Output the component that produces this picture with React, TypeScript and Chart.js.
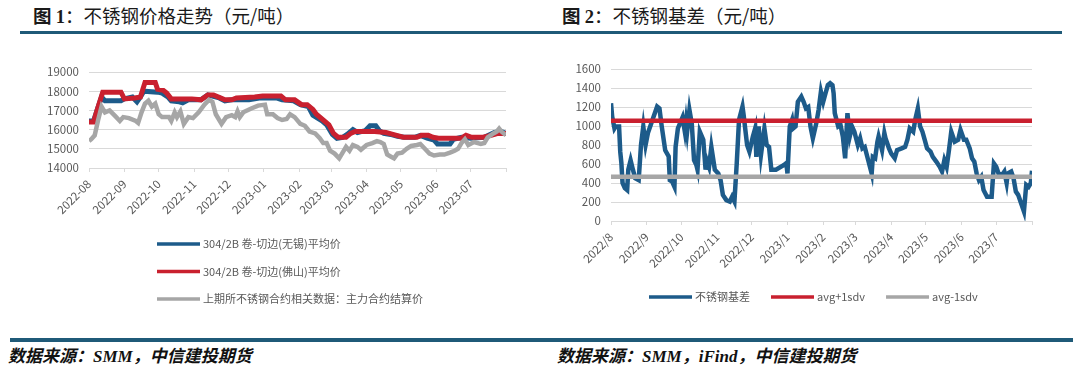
import React, { useEffect, useRef } from 'react';
import { Chart, registerables } from 'chart.js';

Chart.register(...registerables);

// ---------- data: left chart (days since 2022-08-01) ----------
const leftTickDays = [0, 31, 61, 92, 122, 153, 184, 212, 243, 273, 304, 334, 365];
const leftTickLabels = ['2022-08', '2022-09', '2022-10', '2022-11', '2022-12', '2023-01', '2023-02', '2023-03', '2023-04', '2023-05', '2023-06', '2023-07'];

const wuxiDays = [0, 4, 7, 11, 14, 28, 31, 38, 42, 45, 48, 60, 64, 69, 72, 79, 82, 87, 98, 104, 108, 114, 119, 125, 140, 149, 164, 169, 179, 185, 192, 196, 204, 208, 213, 217, 222, 226, 231, 235, 242, 246, 251, 254, 258, 264, 270, 276, 285, 290, 296, 302, 305, 316, 319, 326, 334, 346, 355, 361, 365];
const wuxiPrices = [16450, 16450, 17000, 17700, 17500, 17500, 17600, 17700, 17450, 17700, 18000, 17950, 17900, 17700, 17500, 17450, 17400, 17550, 17550, 17800, 17750, 17650, 17500, 17550, 17550, 17650, 17650, 17550, 17500, 17300, 17200, 16750, 16450, 16250, 15750, 15550, 15600, 15750, 16000, 15850, 15950, 16200, 16200, 15950, 15800, 15750, 15650, 15600, 15600, 15700, 15550, 15450, 15250, 15250, 15500, 15600, 15550, 15600, 15850, 15900, 15800];

const foshanDays = [0, 4, 7, 12, 28, 31, 40, 45, 49, 58, 60, 65, 68, 72, 90, 98, 104, 109, 115, 119, 125, 129, 145, 152, 168, 172, 180, 186, 191, 196, 199, 205, 210, 214, 218, 225, 229, 233, 250, 260, 266, 275, 287, 291, 297, 301, 306, 326, 330, 335, 345, 352, 358, 365];
const foshanPrices = [16400, 16400, 17000, 17950, 17950, 17600, 17650, 17700, 18450, 18450, 18100, 18050, 17900, 17600, 17600, 17550, 17800, 17800, 17650, 17550, 17550, 17650, 17700, 17750, 17750, 17550, 17550, 17300, 17300, 17050, 16800, 16500, 16250, 15800, 15600, 15600, 15800, 15900, 15900, 15850, 15750, 15600, 15600, 15700, 15700, 15600, 15550, 15550, 15700, 15600, 15600, 15700, 15800, 15800];

const futuresDays = [0, 2, 5, 8, 11, 14, 18, 23, 27, 30, 35, 41, 43, 46, 49, 52, 55, 58, 61, 64, 70, 72, 75, 77, 80, 83, 87, 91, 96, 101, 105, 108, 111, 116, 120, 125, 128, 130, 132, 135, 142, 148, 154, 156, 161, 165, 169, 173, 176, 180, 185, 189, 193, 198, 202, 205, 208, 211, 215, 219, 222, 225, 228, 231, 235, 238, 243, 248, 252, 255, 258, 261, 264, 267, 270, 274, 278, 282, 287, 290, 294, 298, 302, 307, 311, 316, 320, 323, 326, 329, 332, 337, 343, 346, 349, 354, 357, 359, 361, 365];
const futuresPrices = [15400, 15500, 15700, 16500, 17200, 16900, 17000, 16700, 16450, 16650, 16600, 16450, 16350, 16900, 17350, 17500, 17200, 17350, 16800, 16650, 16650, 16450, 16900, 16650, 16950, 16300, 16650, 16600, 16900, 17300, 17550, 17450, 16800, 16300, 16650, 16750, 16650, 16950, 16650, 16900, 17100, 17250, 17300, 16800, 16800, 16600, 16500, 16550, 16800, 16650, 16300, 16200, 15900, 15800, 15550, 15300, 15300, 14900, 14750, 14500, 14800, 15100, 14900, 15200, 15100, 14950, 15200, 15300, 15400, 15350, 15250, 14700, 14600, 14500, 14750, 14800, 15000, 15150, 15200, 15250, 15000, 14750, 14650, 14700, 14700, 14800, 14900, 15000, 15300, 15500, 15200, 15350, 15250, 15300, 15600, 15800, 15900, 16050, 15900, 15700];

// ---------- data: right chart ----------
const rightTickDays = [0, 31, 61, 92, 122, 153, 184, 212, 243, 273, 304, 334, 365];
const rightTickLabels = ['2022/8', '2022/9', '2022/10', '2022/11', '2022/12', '2023/1', '2023/2', '2023/3', '2023/4', '2023/5', '2023/6', '2023/7'];

const basisDays = [0, 1, 3, 4, 7, 8, 9, 10, 12, 14, 15, 17, 19, 21, 24, 26, 28, 30, 32, 36, 40, 42, 44, 47, 50, 51, 53, 55, 56, 58, 62, 64, 65, 66, 68, 70, 72, 74, 75, 77, 80, 82, 83, 85, 87, 90, 93, 95, 97, 100, 103, 105, 107, 109, 111, 114, 115, 118, 120, 123, 125, 126, 128, 130, 133, 135, 137, 139, 143, 150, 152, 153, 155, 157, 158, 160, 162, 165, 167, 169, 171, 173, 175, 178, 180, 182, 184, 186, 188, 190, 192, 193, 194, 197, 199, 201, 203, 205, 207, 209, 211, 214, 216, 218, 220, 223, 226, 227, 229, 231, 232, 235, 237, 238, 241, 243, 246, 248, 252, 255, 257, 259, 262, 264, 266, 268, 270, 272, 274, 277, 279, 282, 285, 287, 289, 291, 293, 295, 298, 301, 303, 306, 308, 311, 313, 315, 317, 319, 321, 323, 326, 330, 332, 334, 336, 339, 341, 343, 344, 347, 349, 351, 353, 356, 358, 360, 362, 364, 365];
const basisValues = [1240, 1100, 975, 995, 995, 730, 610, 400, 345, 325, 540, 640, 540, 450, 430, 800, 995, 800, 925, 1065, 1205, 1185, 995, 745, 680, 430, 415, 360, 780, 975, 1090, 940, 1045, 940, 1170, 1030, 640, 590, 540, 940, 855, 540, 640, 570, 780, 540, 500, 430, 275, 220, 205, 255, 205, 605, 1065, 1205, 1115, 800, 730, 890, 975, 675, 995, 695, 975, 800, 780, 540, 540, 590, 610, 500, 995, 1065, 975, 995, 1255, 1310, 1255, 1185, 1200, 990, 870, 1030, 1170, 1360, 1255, 1345, 1430, 1450, 1430, 1345, 1135, 995, 1010, 890, 660, 1135, 890, 995, 940, 800, 870, 765, 780, 640, 500, 675, 660, 835, 890, 745, 925, 870, 765, 710, 660, 745, 765, 780, 855, 975, 940, 1080, 1185, 995, 940, 855, 765, 730, 675, 625, 570, 520, 640, 570, 745, 940, 835, 855, 960, 855, 855, 765, 660, 625, 500, 430, 465, 325, 255, 255, 605, 570, 500, 485, 520, 400, 500, 520, 450, 310, 275, 170, 100, 380, 360, 400, 530];

const bandDays = [0, 365];
const avgPlusSdv = [1055, 1055];
const avgMinusSdv = [465, 465];

// ---------- styles ----------
const BLUE = '#1D5B8A';
const RED = '#C9202F';
const GRAY = '#A6A6A6';
const TICK = '#595959';
const GRID = '#D9D9D9';
const RULE = '#1F5A78';
const CJK = '"Noto Sans CJK SC", "Noto Sans", sans-serif';

const pts = (xs: number[], ys: number[]) => xs.map((x, i) => ({ x, y: ys[i] }));

const lineLegend = {
  id: 'lineLegend',
  afterDraw(chart: any, _args: any, opts: any) {
    const ctx = chart.ctx;
    ctx.save();
    ctx.font = `${opts.fontSize}px ${opts.fontFamily}`;
    ctx.textBaseline = 'middle';
    ctx.textAlign = 'left';
    let x = opts.x;
    let y = opts.y;
    chart.data.datasets.forEach((ds: any) => {
      ctx.strokeStyle = ds.borderColor;
      ctx.lineWidth = opts.lineWidth;
      ctx.lineCap = 'butt';
      ctx.beginPath();
      ctx.moveTo(x, y);
      ctx.lineTo(x + opts.lineLength, y);
      ctx.stroke();
      ctx.fillStyle = opts.color;
      ctx.fillText(ds.label, x + opts.lineLength + opts.textGap, y);
      const w = ctx.measureText(ds.label).width;
      if (opts.vertical) y += opts.rowGap;
      else x += opts.lineLength + opts.textGap + w + opts.itemGap;
    });
    ctx.restore();
  },
};

function xScale(tickDays: number[], tickLabels: string[], height: number) {
  return {
    type: 'linear',
    min: 0,
    max: 365,
    afterBuildTicks: (axis: any) => {
      axis.ticks = tickDays.map((v) => ({ value: v }));
    },
    afterFit: (axis: any) => {
      axis.height = height;
    },
    ticks: {
      autoSkip: false,
      maxRotation: 45,
      minRotation: 45,
      padding: 5,
      color: TICK,
      font: { family: CJK, size: 11.5 },
      callback: (_v: any, i: number) => tickLabels[i] ?? '',
    },
    grid: { drawOnChartArea: false, color: GRID, tickLength: 4 },
    border: { color: GRID },
  };
}

function yScale(min: number, max: number, step: number, width: number) {
  return {
    min,
    max,
    afterFit: (axis: any) => {
      axis.width = width;
    },
    ticks: {
      stepSize: step,
      padding: 10,
      color: TICK,
      font: { family: CJK, size: 11.5 },
      callback: (v: any) => String(v),
    },
    grid: { color: GRID, drawTicks: false },
    border: { display: false },
  };
}

export default function App() {
  const leftRef = useRef<HTMLCanvasElement>(null);
  const rightRef = useRef<HTMLCanvasElement>(null);

  useEffect(() => {
    document.body.style.margin = '0';
    const left = new Chart(leftRef.current as HTMLCanvasElement, {
      type: 'line',
      data: {
        datasets: [
          { label: '304/2B 卷-切边(无锡)平均价', data: pts(wuxiDays, wuxiPrices), borderColor: BLUE, backgroundColor: BLUE, borderWidth: 5, pointRadius: 0, tension: 0, order: 2 },
          { label: '304/2B 卷-切边(佛山)平均价', data: pts(foshanDays, foshanPrices), borderColor: RED, backgroundColor: RED, borderWidth: 5, pointRadius: 0, tension: 0, order: 1 },
          { label: '上期所不锈钢合约相关数据：主力合约结算价', data: pts(futuresDays, futuresPrices), borderColor: GRAY, backgroundColor: GRAY, borderWidth: 4.5, pointRadius: 0, tension: 0, order: 0 },
        ],
      },
      options: {
        responsive: false,
        animation: false,
        layout: { padding: { top: 32, right: 34, bottom: 102, left: 0 } },
        plugins: {
          legend: { display: false },
          tooltip: { enabled: false },
          lineLegend: { x: 157, y: 204, vertical: true, rowGap: 27.5, lineLength: 43, lineWidth: 3.5, textGap: 3, fontSize: 11, fontFamily: CJK, color: TICK },
        } as any,
        scales: {
          x: xScale(leftTickDays, leftTickLabels, 50),
          y: yScale(14000, 19000, 1000, 89),
        } as any,
      },
      plugins: [lineLegend as any],
    });

    const right = new Chart(rightRef.current as HTMLCanvasElement, {
      type: 'line',
      data: {
        datasets: [
          { label: '不锈钢基差', data: pts(basisDays, basisValues), borderColor: BLUE, backgroundColor: BLUE, borderWidth: 4.5, pointRadius: 0, tension: 0, order: 2 },
          { label: 'avg+1sdv', data: pts(bandDays, avgPlusSdv), borderColor: RED, backgroundColor: RED, borderWidth: 4.5, pointRadius: 0, tension: 0, order: 1 },
          { label: 'avg-1sdv', data: pts(bandDays, avgMinusSdv), borderColor: GRAY, backgroundColor: GRAY, borderWidth: 4.5, pointRadius: 0, tension: 0, order: 0 },
        ],
      },
      options: {
        responsive: false,
        animation: false,
        layout: { padding: { top: 29, right: 48, bottom: 49, left: 0 } },
        plugins: {
          legend: { display: false },
          tooltip: { enabled: false },
          lineLegend: { x: 109, y: 257, vertical: false, itemGap: 21, lineLength: 43, lineWidth: 3.5, textGap: 3, fontSize: 11, fontFamily: CJK, color: TICK },
        } as any,
        scales: {
          x: xScale(rightTickDays, rightTickLabels, 50),
          y: yScale(0, 1600, 200, 71),
        } as any,
      },
      plugins: [lineLegend as any],
    });

    return () => {
      left.destroy();
      right.destroy();
    };
  }, []);

  const titleStyle: React.CSSProperties = {
    position: 'absolute',
    top: 3,
    fontSize: 18.5,
    lineHeight: '24px',
    fontFamily: CJK,
    color: '#1a1a1a',
    whiteSpace: 'nowrap',
  };
  const footStyle: React.CSSProperties = {
    position: 'absolute',
    top: 346,
    fontSize: 17,
    lineHeight: '22px',
    fontFamily: '"Liberation Serif", "Noto Sans CJK SC", serif',
    fontWeight: 700,
    fontStyle: 'italic',
    color: '#111',
    whiteSpace: 'nowrap',
  };

  return (
    <div style={{ position: 'relative', width: 1080, height: 371, background: '#fff', overflow: 'hidden' }}>
      <div style={{ ...titleStyle, left: 33 }}>
        <b>图 </b><b style={{ fontFamily: '"Liberation Serif", serif' }}>1</b>：不锈钢价格走势（元/吨）
      </div>
      <div style={{ ...titleStyle, left: 562 }}>
        <b>图 </b><b style={{ fontFamily: '"Liberation Serif", serif' }}>2</b>：不锈钢基差（元/吨）
      </div>
      <div style={{ position: 'absolute', left: 20, top: 31, width: 1042, height: 3, background: RULE }} />
      <canvas ref={leftRef} width={540} height={280} style={{ position: 'absolute', left: 0, top: 40, width: 540, height: 280 }} />
      <canvas ref={rightRef} width={540} height={280} style={{ position: 'absolute', left: 540, top: 40, width: 540, height: 280 }} />
      <div style={{ position: 'absolute', left: 10, top: 338, width: 1063, height: 3.5, background: RULE }} />
      <div style={{ ...footStyle, left: 8 }}>数据来源：SMM，中信建投期货</div>
      <div style={{ ...footStyle, left: 557 }}>数据来源：SMM，iFind，中信建投期货</div>
    </div>
  );
}
